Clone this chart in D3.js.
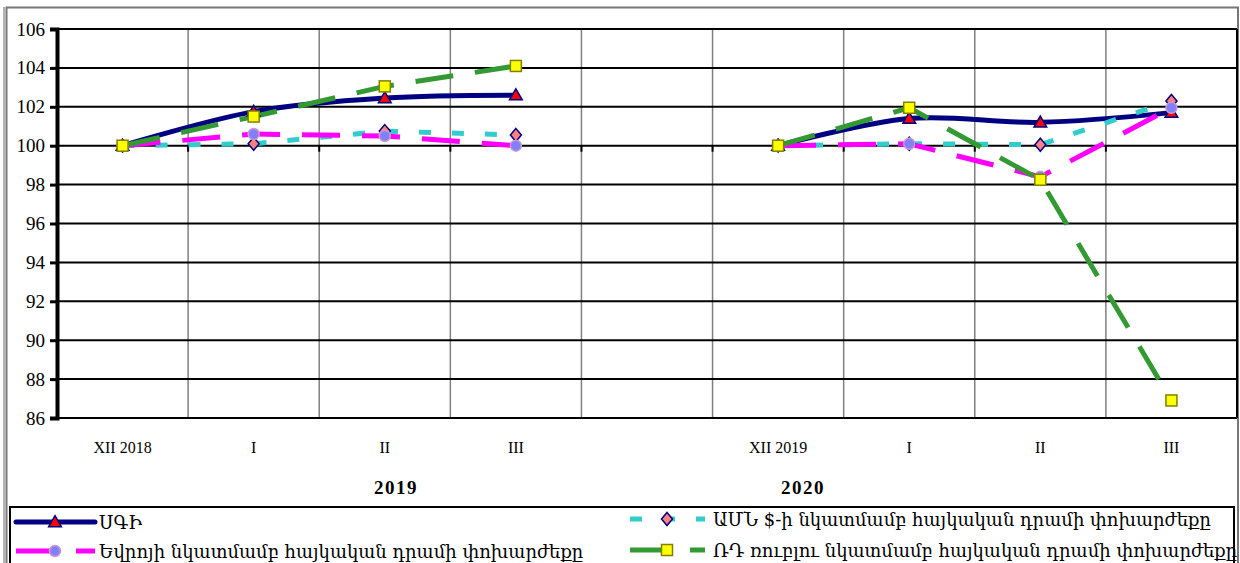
<!DOCTYPE html>
<html><head><meta charset="utf-8">
<script src="https://cdn.jsdelivr.net/npm/d3@7"></script>
<style>
html,body{margin:0;padding:0;background:#fff;}
svg{display:block;}
</style></head>
<body>
<svg id="chart" width="1240" height="563"></svg>
<script>
// ---- data ----
const categories = ["XII 2018","I","II","III","","XII 2019","I","II","III"];
const yearLabels = ["2019","2020"];
const yTickValues = [86,88,90,92,94,96,98,100,102,104,106];
const gdp = [100,101.75,102.45,102.6,null,100,101.4,101.2,101.7];
const usd = [100,100.1,100.75,100.55,null,100,100.1,100.05,102.3];
const eur = [100,100.6,100.5,100.0,null,100,100.1,98.4,101.95];
const rub = [100,101.5,103.05,104.1,null,100,101.95,98.25,86.9];
const seriesNames = [
  "ՍԳԻ",
  "ԱՄՆ $-ի նկատմամբ հայկական դրամի փոխարժեքը",
  "Եվրոյի նկատմամբ հայկական դրամի փոխարժեքը",
  "ՌԴ ռուբլու նկատմամբ հայկական դրամի  փոխարժեքը"
];

const svg = d3.select("#chart");
const L = 57, R = 1237, T = 29, B = 418;
const x = d3.scaleBand().domain(d3.range(categories.length)).range([L, R]);
const y = d3.scaleLinear().domain([86,106]).range([B, T]);
const cx = i => x(i) + x.bandwidth()/2;

const serif = "'Liberation Serif','DejaVu Serif',serif";
const armFont = "'DejaVu Serif','Noto Sans',serif";

// outer chart border
svg.append("line").attr("x1",4).attr("x2",4).attr("y1",7).attr("y2",563).attr("stroke","#666").attr("stroke-width",1);
svg.append("rect").attr("x",6.5).attr("y",7.5).attr("width",1231.5).attr("height",600)
  .attr("fill","none").attr("stroke","#777").attr("stroke-width",2);

// vertical gridlines at category boundaries
const bounds = d3.range(1, categories.length).map(i => x(i));
svg.append("g").selectAll("line").data(bounds).join("line")
  .attr("x1",d=>d).attr("x2",d=>d).attr("y1",T).attr("y2",B)
  .attr("stroke","#808080").attr("stroke-width",1.5);

// horizontal gridlines
svg.append("g").selectAll("line").data(yTickValues).join("line")
  .attr("x1",L).attr("x2",R).attr("y1",d=>y(d)).attr("y2",d=>y(d))
  .attr("stroke","#000").attr("stroke-width",2);
// right border of plot
svg.append("line").attr("x1",R).attr("x2",R).attr("y1",T).attr("y2",B).attr("stroke","#000").attr("stroke-width",2);

// y axis
const yAxis = d3.axisLeft(y).tickValues(yTickValues).tickSize(7).tickPadding(5).tickFormat(d3.format("d"));
const ya = svg.append("g").attr("transform",`translate(${L},0)`).call(yAxis);
ya.select(".domain").attr("stroke","#000").attr("stroke-width",4);
ya.selectAll(".tick line").attr("stroke","#000").attr("stroke-width",3);
ya.selectAll(".tick text").attr("font-family",serif).attr("font-size",19).attr("fill","#000");

// x axis crossing at 100: tick marks at boundaries
svg.append("g").selectAll("line").data(bounds).join("line")
  .attr("x1",d=>d).attr("x2",d=>d).attr("y1",y(100)).attr("y2",y(100)+6)
  .attr("stroke","#000").attr("stroke-width",2);

// category labels at bottom
svg.append("g").selectAll("text").data(categories).join("text")
  .attr("x",(d,i)=>cx(i)).attr("y",453).attr("text-anchor","middle")
  .attr("font-family",serif).attr("font-size",16).attr("fill","#000").text(d=>d);

// year labels
svg.append("g").selectAll("text").data(yearLabels).join("text")
  .attr("x",(d,i)=> i===0 ? 396 : 803).attr("y",494).attr("text-anchor","middle")
  .attr("font-family",serif).attr("font-size",19).attr("font-weight","bold").attr("letter-spacing",1.5)
  .attr("fill","#000").text(d=>d);

// series
const styles = [
  {data:gdp, color:"#000080", dash:null, marker:"triangle", smooth:true},
  {data:usd, color:"#33CCCC", dash:"12,21", marker:"diamond", smooth:false},
  {data:eur, color:"#FF00FF", dash:"38,22", marker:"circle", smooth:false},
  {data:rub, color:"#339933", dash:"38,22", marker:"square", smooth:false}
];
const lineSmooth = d3.line().defined(d=>d.v!=null).x(d=>cx(d.i)).y(d=>y(d.v)).curve(d3.curveCatmullRom.alpha(0.5));
const lineStraight = d3.line().defined(d=>d.v!=null).x(d=>cx(d.i)).y(d=>y(d.v));

function drawMarker(g, type, px, py){
  if(type==="triangle"){
    g.append("path").attr("d",d3.symbol(d3.symbolTriangle,70)()).attr("transform",`translate(${px},${py+1})`)
      .attr("fill","#FF0000").attr("stroke","#000080").attr("stroke-width",1.5);
  } else if(type==="diamond"){
    g.append("path").attr("d",`M0,-6.5L5.5,0L0,6.5L-5.5,0Z`).attr("transform",`translate(${px},${py})`)
      .attr("fill","#FF8080").attr("stroke","#000080").attr("stroke-width",1.5);
  } else if(type==="circle"){
    g.append("circle").attr("cx",px).attr("cy",py).attr("r",5.5)
      .attr("fill","#8080FF").attr("stroke","#CC99CC").attr("stroke-width",1.5);
  } else {
    g.append("rect").attr("x",px-5.5).attr("y",py-5.5).attr("width",11).attr("height",11)
      .attr("fill","#FFFF00").attr("stroke","#808000").attr("stroke-width",1.5);
  }
}

const sg = svg.append("g");
styles.forEach(s=>{
  const pts = s.data.map((v,i)=>({i,v}));
  sg.append("path").attr("d",(s.smooth?lineSmooth:lineStraight)(pts)).attr("fill","none").attr("stroke",s.color)
    .attr("stroke-width",5).attr("stroke-dasharray",s.dash);
});
styles.forEach(s=>{
  const g = sg.append("g");
  s.data.forEach((v,i)=>{ if(v!=null) drawMarker(g, s.marker, cx(i), y(v)); });
});

// legend
svg.append("rect").attr("x",10).attr("y",507).attr("width",1224).attr("height",80)
  .attr("fill","#fff").attr("stroke","#000").attr("stroke-width",2);
const legPos = [
  {x:16, y:522, s:0},
  {x:630, y:519, s:1},
  {x:16, y:551, s:2},
  {x:630, y:550, s:3}
];
legPos.forEach(p=>{
  const s = styles[p.s];
  const g = svg.append("g");
  const x1 = p.x, x2 = p.x + (p.s===0||p.s===2 ? 79 : 75);
  g.append("line").attr("x1",x1).attr("x2",x2).attr("y1",p.y).attr("y2",p.y)
    .attr("stroke",s.color).attr("stroke-width",5).attr("stroke-dasharray",s.dash)
    .attr("stroke-linecap", s.dash ? "butt" : "round");
  drawMarker(g, s.marker, p.x < 100 ? 55 : 667, p.y);
  g.append("text").attr("x", p.x < 100 ? 99 : 713).attr("y",p.y+7)
    .attr("font-family",armFont).attr("font-size",18).attr("fill","#000").text(seriesNames[p.s]);
});
</script>
</body></html>
